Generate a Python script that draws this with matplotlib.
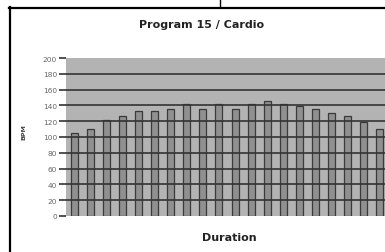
import matplotlib
matplotlib.use('Agg')
import matplotlib.pyplot as plt
from matplotlib.lines import Line2D

# values (bpm per interval)
intervals = list(range(1, 21))
bpm = [105, 110, 121, 126, 133, 133, 136, 142, 136, 142,
       136, 142, 145, 142, 139, 135, 130, 126, 119, 110]
yticks = [0, 20, 40, 60, 80, 100, 120, 140, 160, 180, 200]
tick_labels = ['0', '20', '40', '60', '80', '100', '120', '140', '160', '180', '200']

W, H = 385, 253
fig = plt.figure(figsize=(W / 100, H / 100), dpi=100)
fig.patch.set_facecolor('white')

# plot area runs off the right edge, like the cropped original
ax = fig.add_axes([66 / W, (H - 217) / H, (388 - 66) / W, (217 - 59) / H])
ax.set_facecolor('#b3b3b3')
ax.bar(range(len(bpm)), bpm, width=0.43, color='#909090',
       edgecolor='#3a3a3a', linewidth=0.9, zorder=2)

ax.set_xlim(-0.5, len(bpm) - 0.5)
ax.set_ylim(0, 200)
ax.set_yticks(yticks)
ax.set_yticklabels(tick_labels, fontsize=5.3, color='#666666')
ax.set_xticks([])
for s in ax.spines.values():
    s.set_visible(False)
ax.tick_params(axis='y', length=5, width=1.2, color='#333333', pad=1.5)

# gridlines sit on top of the bars
for v in yticks[1:-1]:
    ax.axhline(v, color='#333333', linewidth=1.2, zorder=3)

fig.text(202 / W, 1 - 25 / H, 'Program 15 / Cardio', ha='center', va='center',
         fontsize=8, fontweight='bold', color='#222222')
fig.text(229 / W, 1 - 238 / H, 'Duration', ha='center', va='center',
         fontsize=8, fontweight='bold', color='#222222')
fig.text(24 / W, 1 - 132 / H, 'BPM', ha='center', va='center', rotation=90,
         fontsize=4.5, fontweight='bold', color='#444444')

# outer frame of the chart object
fig.add_artist(Line2D([9.5 / W, 9.5 / W], [0, 1 - 8 / H], color='black', linewidth=1.6))
fig.add_artist(Line2D([9 / W, 1], [1 - 8.5 / H, 1 - 8.5 / H], color='black', linewidth=1.6))
fig.add_artist(Line2D([219.5 / W, 219.5 / W], [1 - 8 / H, 1], color='black', linewidth=1.0))

fig.savefig('out.png', dpi=100)
